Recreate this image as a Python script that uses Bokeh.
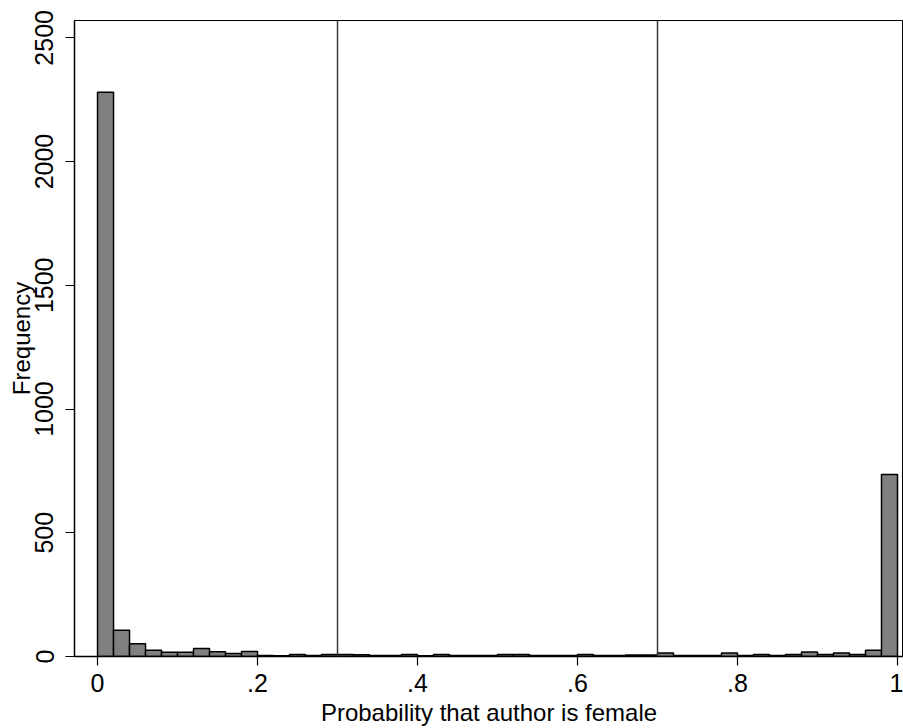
from bokeh.plotting import figure
from bokeh.models import Range1d, FixedTicker, Span
from bokeh.embed import file_html
from bokeh.resources import INLINE

# Histogram data: 50 bins of width 0.02 over [0, 1]
bin_width = 0.02
counts = [2280, 106, 52, 25, 17, 17, 32, 19, 12, 20,
          4, 3, 8, 4, 8, 8, 7, 4, 4, 8,
          3, 8, 4, 4, 4, 8, 8, 4, 4, 4,
          8, 4, 4, 6, 6, 14, 4, 4, 4, 14,
          4, 8, 4, 8, 18, 8, 14, 8, 25, 735]
vline_positions = [0.3, 0.7]
x_ticks = [0, 0.2, 0.4, 0.6, 0.8, 1.0]
x_tick_labels = ["0", ".2", ".4", ".6", ".8", "1"]
y_ticks = [0, 500, 1000, 1500, 2000, 2500]
x_title = "Probability that author is female"
y_title = "Frequency"

lefts = [i * bin_width for i in range(len(counts))]
rights = [l + bin_width for l in lefts]
bottoms = [0] * len(counts)

FONT = "Liberation Sans"

p = figure(width=903, height=728, output_backend="svg", toolbar_location=None,
           x_range=Range1d(-0.0288, 1.0075), y_range=Range1d(0, 2570),
           min_border_left=74, min_border_right=0, min_border_top=20, min_border_bottom=71,
           background_fill_color="white", border_fill_color="white")

p.quad(left=lefts, right=rights, bottom=bottoms, top=counts,
       fill_color="#808080", line_color="black", line_width=1.5)

for xv in vline_positions:
    p.add_layout(Span(location=xv, dimension="height", line_color="#3a3a3a", line_width=1.5))

p.xgrid.visible = False
p.ygrid.visible = False
p.outline_line_color = "black"
p.outline_line_width = 1

for ax in (p.xaxis[0], p.yaxis[0]):
    ax.axis_line_color = "black"
    ax.axis_line_width = 1.5
    ax.major_tick_line_color = "black"
    ax.major_tick_line_width = 1.2
    ax.major_tick_out = 9
    ax.major_tick_in = 0
    ax.minor_tick_out = 0
    ax.minor_tick_in = 0
    ax.major_label_text_font = FONT
    ax.major_label_text_font_size = "25px"
    ax.major_label_text_color = "black"
    ax.axis_label_text_font = FONT
    ax.axis_label_text_font_size = "24px"
    ax.axis_label_text_font_style = "normal"
    ax.axis_label_text_color = "black"

p.xaxis[0].ticker = FixedTicker(ticks=x_ticks)
p.xaxis[0].major_label_overrides = {t: s for t, s in zip(x_ticks, x_tick_labels)}
p.xaxis[0].major_label_overrides.update({1: "1", 0: "0"})
p.xaxis[0].major_label_standoff = 8
p.xaxis[0].axis_label = x_title
p.xaxis[0].axis_label_standoff = 4

p.yaxis[0].ticker = FixedTicker(ticks=y_ticks)
p.yaxis[0].major_label_orientation = "vertical"
p.yaxis[0].major_label_standoff = 12
p.yaxis[0].axis_label = y_title
p.yaxis[0].axis_label_standoff = -2

open("out.html", "w").write(file_html(p, INLINE))
